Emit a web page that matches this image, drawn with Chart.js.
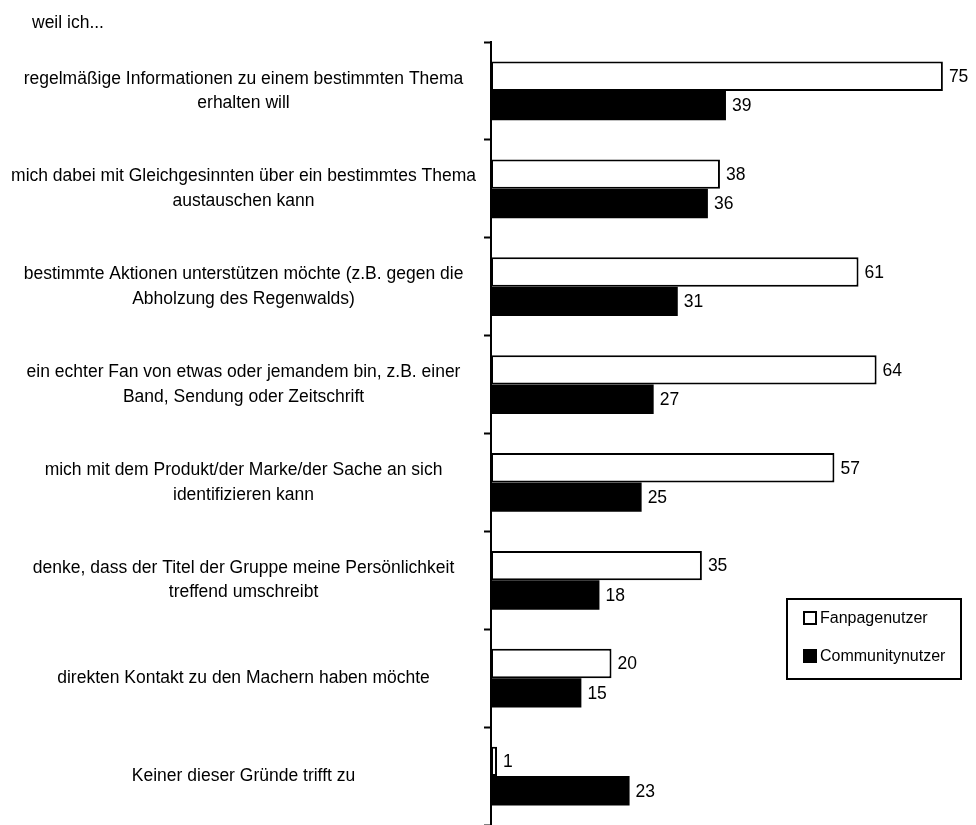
<!DOCTYPE html>
<html>
<head>
<meta charset="utf-8">
<script src="https://cdn.jsdelivr.net/npm/chart.js@4.4.1/dist/chart.umd.min.js"></script>
<style>
  html, body { margin: 0; padding: 0; background: #fff; }
  #wrap { width: 976px; height: 825px; position: relative; }
</style>
</head>
<body>
<div id="wrap"><canvas id="myChart"></canvas></div>
<script>
const FONT = "'Liberation Sans', Arial, sans-serif";

const introText = 'weil ich...';

const categories = [
    ['regelmäßige Informationen zu einem bestimmten Thema', 'erhalten will'],
    ['mich dabei mit Gleichgesinnten über ein bestimmtes Thema', 'austauschen kann'],
    ['bestimmte Aktionen unterstützen möchte (z.B. gegen die', 'Abholzung des Regenwalds)'],
    ['ein echter Fan von etwas oder jemandem bin, z.B. einer', 'Band, Sendung oder Zeitschrift'],
    ['mich mit dem Produkt/der Marke/der Sache an sich', 'identifizieren kann'],
    ['denke, dass der Titel der Gruppe meine Persönlichkeit', 'treffend umschreibt'],
    'direkten Kontakt zu den Machern haben möchte',
    'Keiner dieser Gründe trifft zu'
];

const fanpageValues = [75, 38, 61, 64, 57, 35, 20, 1];
const communityValues = [39, 36, 31, 27, 25, 18, 15, 23];

// value labels right of each bar
const valueLabels = {
    id: 'valueLabels',
    afterDatasetsDraw(chart) {
        const ctx = chart.ctx;
        ctx.save();
        ctx.font = '17.5px ' + FONT;
        ctx.fillStyle = '#000';
        ctx.textAlign = 'left';
        ctx.textBaseline = 'middle';
        chart.data.datasets.forEach((ds, i) => {
            chart.getDatasetMeta(i).data.forEach((bar, j) => {
                ctx.fillText(ds.data[j], bar.x + 6, bar.y + 1);
            });
        });
        ctx.restore();
    }
};

// intro text + boxed legend
const extras = {
    id: 'extras',
    afterDraw(chart) {
        const ctx = chart.ctx;
        ctx.save();
        ctx.fillStyle = '#000';
        ctx.font = '17.5px ' + FONT;
        ctx.textBaseline = 'middle';
        ctx.fillText(introText, 32, 23);

        const bx = 787, by = 599, bw = 174, bh = 80;
        ctx.strokeStyle = '#000';
        ctx.lineWidth = 2;
        ctx.strokeRect(bx, by, bw, bh);
        ctx.font = '16px ' + FONT;
        chart.data.datasets.forEach((ds, i) => {
            const y = by + 19 + i * 38;
            ctx.fillStyle = ds.backgroundColor;
            ctx.fillRect(bx + 17, y - 6, 12, 12);
            ctx.lineWidth = 2;
            ctx.strokeStyle = '#000';
            ctx.strokeRect(bx + 17, y - 6, 12, 12);
            ctx.fillStyle = '#000';
            ctx.fillText(ds.label, bx + 33, y + 1);
        });
        ctx.restore();
    }
};

const ctx = document.getElementById('myChart').getContext('2d');
new Chart(ctx, {
    type: 'bar',
    data: {
        labels: categories,
        datasets: [{
            label: 'Fanpagenutzer',
            data: fanpageValues,
            backgroundColor: '#ffffff',
            borderColor: '#000000',
            borderWidth: 2,
            borderSkipped: false,
            categoryPercentage: 0.6,
            barPercentage: 1.0
        }, {
            label: 'Communitynutzer',
            data: communityValues,
            backgroundColor: '#000000',
            borderWidth: 0,
            categoryPercentage: 0.6,
            barPercentage: 1.0
        }]
    },
    options: {
        indexAxis: 'y',
        responsive: true,
        maintainAspectRatio: false,
        animation: false,
        layout: { padding: { top: 42, right: 3, bottom: 0, left: 0 } },
        plugins: {
            legend: { display: false },
            tooltip: { enabled: false }
        },
        scales: {
            x: {
                display: false,
                min: 0,
                max: 80
            },
            y: {
                afterFit(scale) {
                    scale.width = 491;
                    scale.paddingTop = 0;
                    scale.paddingBottom = 0;
                },
                grid: {
                    drawOnChartArea: false,
                    tickLength: 7,
                    tickWidth: 2,
                    color: '#000',
                    offset: true
                },
                border: { display: true, color: '#000', width: 2 },
                ticks: {
                    color: '#000',
                    crossAlign: 'center',
                    padding: 8,
                    font: { family: FONT, size: 17.5, lineHeight: 1.4 }
                }
            }
        }
    },
    plugins: [valueLabels, extras]
});
</script>
</body>
</html>
